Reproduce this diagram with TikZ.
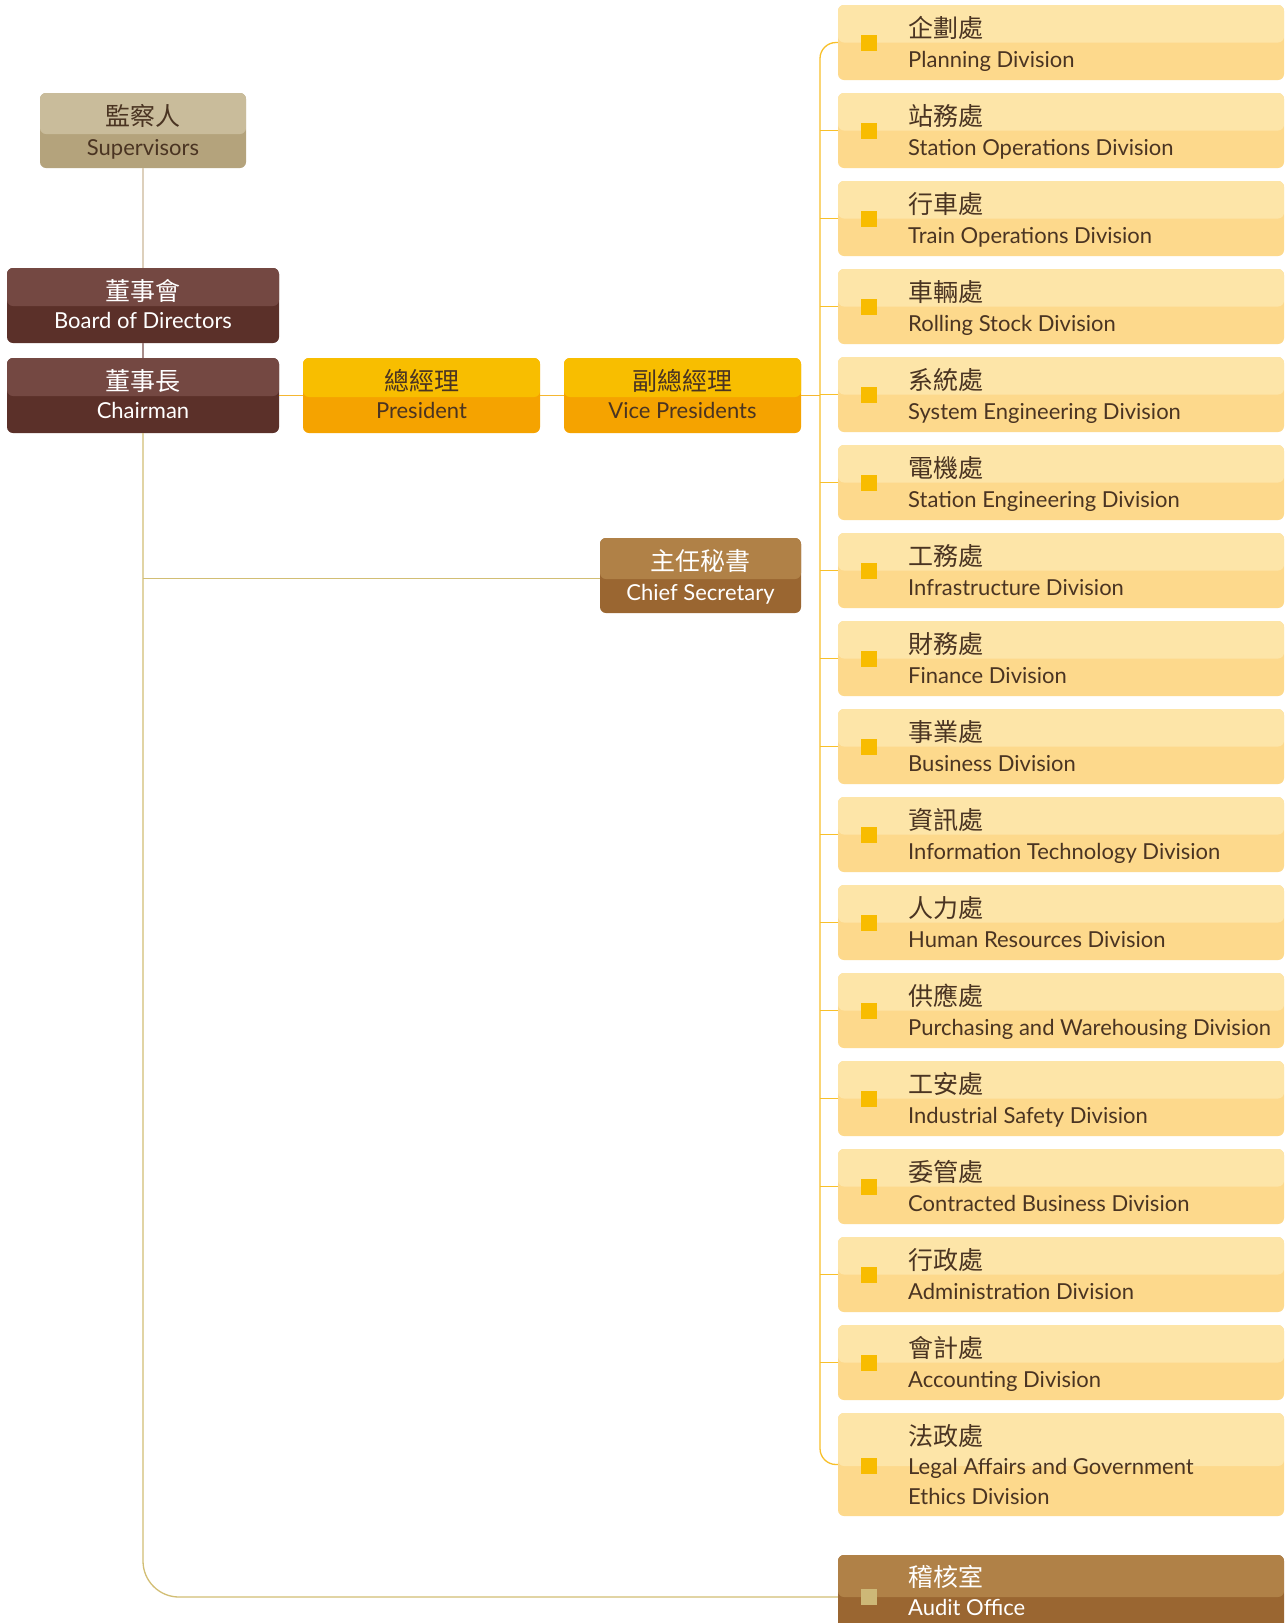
\documentclass[tikz,border=0pt]{standalone}
\usepackage{fontspec}
\setmainfont{Lato}
\newfontfamily\cjk{Noto Sans CJK TC}
\definecolor{suptop}{HTML}{C9BC9B}
\definecolor{supbot}{HTML}{B4A37C}
\definecolor{brdtop}{HTML}{744842}
\definecolor{brdbot}{HTML}{5B3029}
\definecolor{prestop}{HTML}{F8BE00}
\definecolor{presbot}{HTML}{F5A300}
\definecolor{chftop}{HTML}{B08147}
\definecolor{chfbot}{HTML}{9A6631}
\definecolor{divtop}{HTML}{FDE5A8}
\definecolor{divbot}{HTML}{FDD98C}
\definecolor{bullet}{HTML}{F8BC00}
\definecolor{audbullet}{HTML}{CDB877}
\definecolor{darktext}{HTML}{4A3422}
\definecolor{suplinec}{HTML}{DDD0BC}
\definecolor{brdlinec}{HTML}{A88D8A}
\definecolor{olinec}{HTML}{F5B731}
\definecolor{rlinec}{HTML}{F8C02A}
\definecolor{llinec}{HTML}{D2BE74}
\newcommand\orgbox[8]{%
  \node[rounded corners=6pt, inner sep=0pt, fill=#7,
    minimum width={(#4-#2)*1pt}, minimum height={(#5-#3)*1pt},
    path picture={\fill[#6] (path picture bounding box.north west) rectangle ([yshift=-#8pt]path picture bounding box.north east);}]
    (#1) at ({(#2+#4)/2},{(#3+#5)/2}) {};}
\tikzset{
  cjkt/.style={font=\cjk\fontsize{25}{30}\selectfont, inner sep=0pt},
  ent/.style={font=\fontsize{22}{26}\selectfont, inner sep=0pt},
  sqmark/.style={fill=#1, minimum size=16pt, inner sep=0pt},
  supline/.style={draw=suplinec, line width=1.3pt},
  brdline/.style={draw=brdlinec, line width=1.3pt},
  oline/.style={draw=olinec, line width=1.3pt},
  rline/.style={draw=rlinec, line width=1.3pt},
  lline/.style={draw=llinec, line width=1.3pt},
}
\begin{document}
\begin{tikzpicture}[x=1pt,y=-1pt]
\clip (0,0) rectangle (1285,1623);
\fill[white] (0,0) rectangle (1285,1623);
% left column
\orgbox{sup}{40}{93}{246}{168}{suptop}{supbot}{41}
\orgbox{board}{7}{268}{279}{343}{brdtop}{brdbot}{38}
\orgbox{chair}{7}{358}{279}{433}{brdtop}{brdbot}{38}
\orgbox{pres}{303}{358}{540}{433}{prestop}{presbot}{39}
\orgbox{vp}{564}{358}{801}{433}{prestop}{presbot}{39}
\orgbox{chief}{600}{538}{801}{613}{chftop}{chfbot}{41}
\node[cjkt, anchor=base, text=darktext] (supzh) at (143,125) {監察人};
\node[ent, anchor=base, text=darktext] (supen) at (143,155) {Supervisors};
\node[cjkt, anchor=base, text=white] (boardzh) at (143,300) {董事會};
\node[ent, anchor=base, text=white] (boarden) at (143,328) {Board of Directors};
\node[cjkt, anchor=base, text=white] (chairzh) at (143,390) {董事長};
\node[ent, anchor=base, text=white] (chairen) at (143,418) {Chairman};
\node[cjkt, anchor=base, text=darktext] (preszh) at (421.5,390) {總經理};
\node[ent, anchor=base, text=darktext] (presen) at (421.5,418) {President};
\node[cjkt, anchor=base, text=darktext] (vpzh) at (682.5,390) {副總經理};
\node[ent, anchor=base, text=darktext] (vpen) at (682.5,418) {Vice Presidents};
\node[cjkt, anchor=base, text=white] (chiefzh) at (700.5,570) {主任秘書};
\node[ent, anchor=base, text=white] (chiefen) at (700.5,600) {Chief Secretary};
% divisions
\coordinate (bus) at (820,0);
\foreach \i/\zh/\en in {1/企劃處/Planning Division,
  2/站務處/Station Operations Division,
  3/行車處/Train Operations Division,
  4/車輛處/Rolling Stock Division,
  5/系統處/System Engineering Division,
  6/電機處/Station Engineering Division,
  7/工務處/Infrastructure Division,
  8/財務處/Finance Division,
  9/事業處/Business Division,
  10/資訊處/Information Technology Division,
  11/人力處/Human Resources Division,
  12/供應處/Purchasing and Warehousing Division,
  13/工安處/Industrial Safety Division,
  14/委管處/Contracted Business Division,
  15/行政處/Administration Division,
  16/會計處/Accounting Division}{
  \pgfmathsetmacro\t{5+88*(\i-1)}
  \pgfmathsetmacro\b{\t+75}
  \orgbox{d\i}{838}{\t}{1284}{\b}{divtop}{divbot}{37.5}
  \node[sqmark=bullet] (b\i) at (869,{\t+37.5}) {};
  \node[cjkt, anchor=base west, text=darktext] (z\i) at (908,{\t+32}) {\zh};
  \node[ent, anchor=base west, text=darktext] (e\i) at (908,{\t+62}) {\en};
}
\orgbox{d17}{838}{1413}{1284}{1516}{divtop}{divbot}{53}
\node[sqmark=bullet] (b17) at (869,1466) {};
\node[cjkt, anchor=base west, text=darktext] (z17) at (908,1445) {法政處};
\node[ent, anchor=base west, text=darktext] (e17) at (908,1474) {Legal Affairs and Government};
\node[ent, anchor=base west, text=darktext] (e17b) at (908,1504) {Ethics Division};
\orgbox{audit}{838}{1555}{1284}{1639}{chftop}{chfbot}{42}
\node[sqmark=audbullet] (b18) at (869,1597) {};
\node[cjkt, anchor=base west, text=white] (auditzh) at (908,1586) {稽核室};
\node[ent, anchor=base west, text=white] (auditen) at (908,1615) {Audit Office};
% connectors
\draw[supline] (sup.south) -- (board.north);
\draw[brdline] (board.south) -- (chair.north);
\draw[oline] (chair.east) -- (pres.west);
\draw[oline] (pres.east) -- (vp.west);
\draw[oline] (vp.east) -- (vp.east -| bus);
\draw[rline, rounded corners=16pt] (d1.west) -- (d1.west -| bus) -- (d17.west -| bus) -- (d17.west);
\foreach \i in {2,...,16} { \draw[rline] (d\i.west) -- (d\i.west -| bus); }
\draw[lline, rounded corners=36pt] (chair.south) -- (chair.south |- audit.west) -- (audit.west);
\draw[lline] ([yshift=-3pt]chief.west) -- ([yshift=-3pt]chief.west -| chair.south);
\end{tikzpicture}
\end{document}
